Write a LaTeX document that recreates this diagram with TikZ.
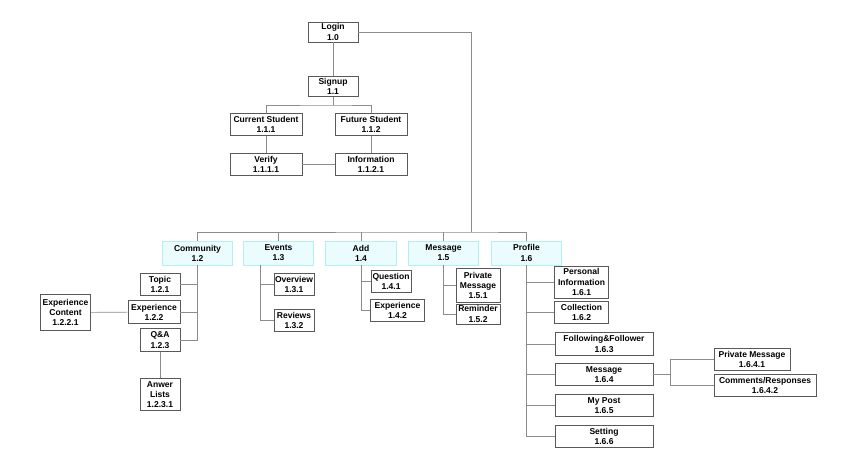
\documentclass[tikz,border=0pt]{standalone}
\usepackage{fontspec}
\setmainfont{Liberation Sans}
\begin{document}
\begin{tikzpicture}[x=0.75pt,y=-0.75pt,
    box/.style={draw=black!65,fill=white,align=center,inner sep=0pt,line width=0.6pt,
      font=\fontsize{6.4}{7.6}\selectfont\bfseries},
    top/.style={box,draw=blue!30!black!20!cyan!30,fill=blue!15!cyan!8},
    link/.style={draw=black!45,line width=0.5pt}]
\useasboundingbox (0,0) rectangle (849,451);
            % Nodes
            \node[box,minimum width=37.5pt,minimum height=15pt] (login) at (333,32){Login\\1.0};
            \node[box,minimum width=37.5pt,minimum height=14.5pt] (signup) at (333,86.5){Signup\\1.1};
            \node[box,minimum width=54pt,minimum height=17pt] (cur) at (266,124.5){Current Student\\1.1.1};
            \node[box,minimum width=54pt,minimum height=17pt] (fut) at (371,124.5){Future Student\\1.1.2};
            \node[box,minimum width=54pt,minimum height=17pt] (ver) at (266,164.5){Verify\\1.1.1.1};
            \node[box,minimum width=54pt,minimum height=17pt] (inf) at (371,164.5){Information\\1.1.2.1};
            \node[top,minimum width=53pt,minimum height=18pt] (com) at (197.5,253){Community\\1.2};
            \node[top,minimum width=53pt,minimum height=18pt] (evt) at (278.5,253){Events\\1.3};
            \node[top,minimum width=53pt,minimum height=18pt] (add) at (361,253){Add\\1.4};
            \node[top,minimum width=53pt,minimum height=18pt] (msg) at (443.5,253){Message\\1.5};
            \node[top,minimum width=53pt,minimum height=18pt] (pro) at (526.5,253){Profile\\1.6};
            \node[box,minimum width=30pt,minimum height=17pt] (topic) at (160,284.5){Topic\\1.2.1};
            \node[box,minimum width=39pt,minimum height=17pt] (exp) at (154,312){Experience\\1.2.2};
            \node[box,minimum width=30pt,minimum height=17pt] (qa) at (160,340){Q\&A\\1.2.3};
            \node[box,minimum width=38pt,minimum height=27pt] (expc) at (65.5,312.5){Experience\\Content\\1.2.2.1};
            \node[box,minimum width=30pt,minimum height=24pt] (ans) at (160,394.5){Anwer\\Lists\\1.2.3.1};
            \node[box,minimum width=30pt,minimum height=17pt] (ovr) at (294,284.5){Overview\\1.3.1};
            \node[box,minimum width=30pt,minimum height=17pt] (rev) at (294,320.5){Reviews\\1.3.2};
            \node[box,minimum width=30pt,minimum height=17pt] (que) at (391,281.5){Question\\1.4.1};
            \node[box,minimum width=40pt,minimum height=17pt] (aexp) at (397.5,310.5){Experience\\1.4.2};
            \node[box,minimum width=33pt,minimum height=26pt] (pm) at (478,285.5){Private\\Message\\1.5.1};
            \node[box,minimum width=33pt,minimum height=15pt] (rem) at (478,314){Reminder\\1.5.2};
            \node[box,minimum width=40pt,minimum height=24pt] (pinf) at (581.5,282){Personal\\Information\\1.6.1};
            \node[box,minimum width=40pt,minimum height=17pt] (col) at (581.5,312.5){Collection\\1.6.2};
            \node[box,minimum width=73.5pt,minimum height=17pt] (fol) at (604,344){Following\&Follower\\1.6.3};
            \node[box,minimum width=73.5pt,minimum height=17pt] (pmsg) at (604,374.5){Message\\1.6.4};
            \node[box,minimum width=73.5pt,minimum height=17pt] (post) at (604,405.5){My Post\\1.6.5};
            \node[box,minimum width=73.5pt,minimum height=17pt] (set) at (604,436.5){Setting\\1.6.6};
            \node[box,minimum width=57pt,minimum height=17pt] (ppm) at (752,359.5){Private Message\\1.6.4.1};
            \node[box,minimum width=76.5pt,minimum height=17pt] (cmt) at (765,385.5){Comments/Responses\\1.6.4.2};
            \coordinate (bus) at (471,232);
            \coordinate (fork) at (333,105);
            \coordinate (mfork) at (670,374.5);
            % Edges
            \path[link] (login) -- (signup);
            \path[link] (login.east) -| (bus);
            \path[link] (signup) -- (fork);
            \path[link] (cur.north) |- (fork) -| (fut.north);
            \path[link] (cur) -- (ver);
            \path[link] (fut) -- (inf);
            \path[link] (ver) -- (inf);
            \path[link] (com.north) |- (bus) -| (pro.north);
            \foreach \n in {evt,add,msg} \path[link] (\n.north) -- (\n.north |- bus);
            \foreach \n in {topic,exp,qa} \path[link] (com.south) |- (\n.east);
            \path[link] (expc) -- (exp);
            \path[link] (qa) -- (ans);
            \foreach \n in {ovr,rev} \path[link] (evt.south -| 260,0) |- (\n.west);
            \foreach \n in {que,aexp} \path[link] (add.south) |- (\n.west);
            \foreach \n in {pm,rem} \path[link] (msg.south) |- (\n.west);
            \foreach \n in {pinf,col,fol,pmsg,post,set} \path[link] (pro.south) |- (\n.west);
            \path[link] (pmsg) -- (mfork);
            \foreach \n in {ppm,cmt} \path[link] (mfork) |- (\n.west);
        \end{tikzpicture}
\end{document}
